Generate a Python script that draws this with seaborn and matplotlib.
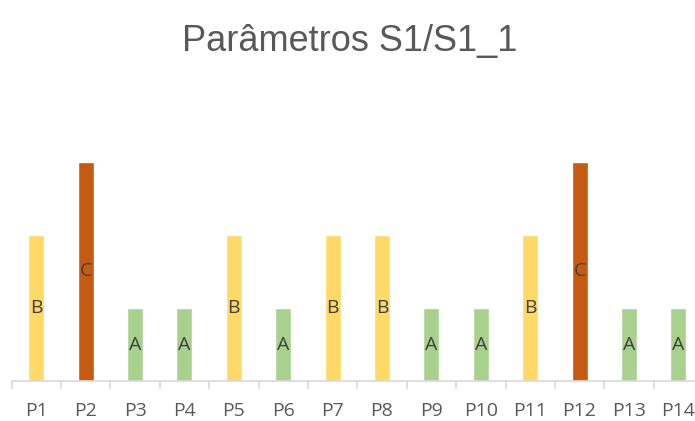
import matplotlib
matplotlib.use("Agg")
import matplotlib.pyplot as plt
import seaborn as sns
import pandas as pd

categories = ["P1", "P2", "P3", "P4", "P5", "P6", "P7", "P8", "P9", "P10", "P11", "P12", "P13", "P14"]
classes = ["B", "C", "A", "A", "B", "A", "B", "B", "A", "A", "B", "C", "A", "A"]
class_values = {"A": 1, "B": 2, "C": 3}
values = [class_values[c] for c in classes]
palette = {"A": "#A9D18E", "B": "#FFD966", "C": "#C55A11"}

df = pd.DataFrame({"param": categories, "classe": classes, "valor": values})

sns.set_style("white")
plt.rcParams["font.family"] = ["Open Sans", "DejaVu Sans"]

fig = plt.figure(figsize=(6.95, 4.21), dpi=100)
ax = fig.add_axes([11.5 / 695, 1 - 381 / 421, 691.6 / 695, 292 / 421])

sns.barplot(data=df, x="param", y="valor", hue="classe", palette=palette,
            dodge=False, width=0.32, legend=False, ax=ax, order=categories,
            saturation=1)

for i, (v, c) in enumerate(zip(values, classes)):
    ax.text(i, v / 2, c, ha="center", va="center", fontsize=14, color="#404040")

ax.set_ylim(0, 4)
ax.set_xlim(-0.5, len(categories) - 0.5)
ax.set_xlabel("")
ax.set_ylabel("")
ax.set_yticks([])
for s in ["top", "right", "left"]:
    ax.spines[s].set_visible(False)
ax.spines["bottom"].set_color("#D9D9D9")
ax.spines["bottom"].set_linewidth(1.2)

ax.set_xticks(range(len(categories)))
ax.set_xticklabels(categories, fontsize=14, color="#595959")
ax.tick_params(axis="x", which="major", length=0, pad=15, bottom=True)
ax.set_xticks([i - 0.5 for i in range(len(categories) + 1)], minor=True)
ax.tick_params(axis="x", which="minor", length=6, color="#D9D9D9", width=1.2, bottom=True)

fig.text(350 / 695, 1 - 42 / 421, "Parâmetros S1/S1_1", ha="center", va="center",
         fontsize=26, color="#595959", family=["Liberation Sans", "DejaVu Sans"])

fig.savefig("out.png", dpi=100)
